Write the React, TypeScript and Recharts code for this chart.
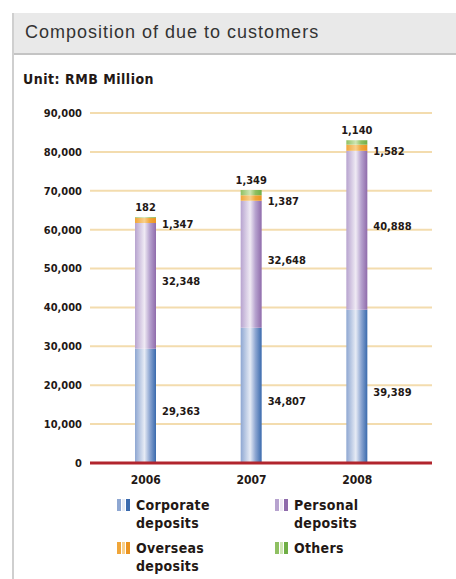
import React from 'react';
import { BarChart, Bar, XAxis, YAxis, CartesianGrid } from 'recharts';

const years = ['2006', '2007', '2008'];
const corporate = [29363, 34807, 39389];
const personal = [32348, 32648, 40888];
const overseas = [1347, 1387, 1582];
const others = [182, 1349, 1140];
const yTicks = [0, 10000, 20000, 30000, 40000, 50000, 60000, 70000, 80000, 90000];

const FONT = '"Liberation Sans Narrow", "DejaVu Sans Condensed", "Liberation Sans", sans-serif';

const data = years.map((year, i) => ({
  year,
  corporate: corporate[i],
  personal: personal[i],
  overseas: overseas[i],
  others: others[i],
}));

// stripe colours: light, highlight, dark (used for bar gradients and legend icons)
const palette = {
  corporate: ['#8ea7d2', '#e6ebf5', '#3a6aad'],
  personal: ['#b7a3cf', '#efeaf4', '#8f6bab'],
  overseas: ['#f0a63a', '#f8d08c', '#eb9420'],
  others: ['#8fc062', '#cfe6b4', '#6fae45'],
};

const legendItems = [
  { key: 'corporate', lines: ['Corporate', 'deposits'], left: 117, top: 496 },
  { key: 'personal', lines: ['Personal', 'deposits'], left: 275, top: 496 },
  { key: 'overseas', lines: ['Overseas', 'deposits'], left: 117, top: 539 },
  { key: 'others', lines: ['Others'], left: 275, top: 539 },
];

const fmt = (v: number) => v.toLocaleString('en-US');

const labelStyle = { fontFamily: FONT, fontWeight: 700, fontSize: 11, fill: '#231815' };

// stacked bars hand the cumulative value to labels, so read the raw one by index
function sideLabel(values: number[], offsetY: number) {
  return (props: any) => {
    const { x, y, width, height, index } = props;
    return (
      <text x={x + width + 6} y={y + height / 2 + offsetY} dominantBaseline="central" {...labelStyle}>
        {fmt(values[index])}
      </text>
    );
  };
}

function topLabel(values: number[]) {
  return (props: any) => {
    const { x, y, width, index } = props;
    return (
      <text x={x + width / 2} y={y - 6} textAnchor="middle" {...labelStyle}>
        {fmt(values[index])}
      </text>
    );
  };
}

function Gradient({ id, colors }: { id: string; colors: string[] }) {
  return (
    <linearGradient id={id} x1="0" y1="0" x2="1" y2="0">
      <stop offset="0%" stopColor={colors[0]} />
      <stop offset="45%" stopColor={colors[1]} />
      <stop offset="70%" stopColor={colors[0]} />
      <stop offset="100%" stopColor={colors[2]} />
    </linearGradient>
  );
}

export default function App() {
  return (
    <div style={{ position: 'absolute', left: 0, top: 0, width: 456, height: 579, background: '#fff', overflow: 'hidden' }}>
      {/* title bar and frame */}
      <div
        style={{
          position: 'absolute', left: 13, top: 13, width: 443, height: 40,
          background: '#e9e9e9', borderBottom: '2px solid #c4c4c4',
        }}
      />
      <div style={{ position: 'absolute', left: 12, top: 13, width: 2, height: 566, background: '#cfcfcf' }} />
      <div
        style={{
          position: 'absolute', left: 25, top: 22, fontFamily: '"Liberation Sans", sans-serif',
          fontSize: 18, letterSpacing: 1, color: '#333', whiteSpace: 'nowrap',
        }}
      >
        Composition of due to customers
      </div>
      <div
        style={{
          position: 'absolute', left: 23, top: 71, fontFamily: FONT, fontWeight: 700,
          fontSize: 14, letterSpacing: 0.5, color: '#231815', whiteSpace: 'nowrap',
        }}
      >
        Unit: RMB Million
      </div>

      <div style={{ position: 'absolute', left: 0, top: 0 }}>
        <BarChart
          width={456}
          height={492}
          data={data}
          barSize={21}
          margin={{ top: 113, right: 24, left: 0, bottom: 0 }}
        >
          <defs>
            <Gradient id="gCorporate" colors={palette.corporate} />
            <Gradient id="gPersonal" colors={palette.personal} />
            <Gradient id="gOverseas" colors={palette.overseas} />
            <Gradient id="gOthers" colors={palette.others} />
          </defs>
          <CartesianGrid vertical={false} stroke="#f3dcae" strokeWidth={2} />
          <XAxis
            dataKey="year"
            padding={{ left: 3, right: 22 }}
            axisLine={{ stroke: '#b1252d', strokeWidth: 3 }}
            tickLine={false}
            tickMargin={6}
            height={29}
            tick={{ fontFamily: FONT, fontWeight: 700, fontSize: 12, fill: '#231815' }}
          />
          <YAxis
            width={90}
            domain={[0, 90000]}
            ticks={yTicks}
            interval={0}
            axisLine={false}
            tickLine={false}
            tickMargin={2}
            tickFormatter={fmt}
            tick={{ fontFamily: FONT, fontWeight: 700, fontSize: 11, fill: '#231815' }}
          />
          <Bar dataKey="corporate" stackId="a" fill="url(#gCorporate)" isAnimationActive={false} label={sideLabel(corporate, 6)} />
          <Bar dataKey="personal" stackId="a" fill="url(#gPersonal)" isAnimationActive={false} label={sideLabel(personal, -4)} />
          <Bar dataKey="overseas" stackId="a" fill="url(#gOverseas)" isAnimationActive={false} label={sideLabel(overseas, 4)} />
          <Bar dataKey="others" stackId="a" fill="url(#gOthers)" isAnimationActive={false} label={topLabel(others)} />
        </BarChart>
      </div>

      {legendItems.map((item) => {
        const c = palette[item.key as keyof typeof palette];
        return (
          <div key={item.key} style={{ position: 'absolute', left: item.left, top: item.top, display: 'flex' }}>
            <div style={{ display: 'flex', gap: 1, marginTop: 3, height: 12 }}>
              <div style={{ width: 4, background: c[0] }} />
              <div style={{ width: 3, background: c[1] }} />
              <div style={{ width: 4, background: c[2] }} />
            </div>
            <div
              style={{
                marginLeft: 6, fontFamily: FONT, fontWeight: 700, fontSize: 14,
                letterSpacing: 0.3, lineHeight: '18px', color: '#231815',
              }}
            >
              {item.lines.map((l) => (
                <div key={l}>{l}</div>
              ))}
            </div>
          </div>
        );
      })}
    </div>
  );
}
